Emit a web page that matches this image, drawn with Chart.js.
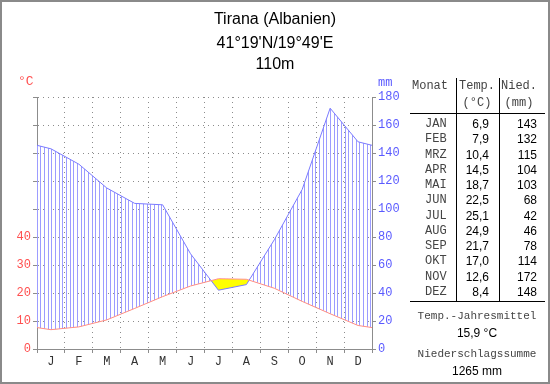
<!DOCTYPE html>
<html><head><meta charset="utf-8">
<script src="https://cdn.jsdelivr.net/npm/chart.js@4/dist/chart.umd.min.js"></script>
<style>
html,body{margin:0;padding:0;background:#fff;}
#wrap{position:relative;width:550px;height:384px;overflow:hidden;background:#fff;}
#frame{position:absolute;left:0;top:0;width:550px;height:384px;box-sizing:border-box;border:2px solid #8a8a8a;pointer-events:none;}
canvas{position:absolute;left:0;top:0;}
.t{position:absolute;white-space:nowrap;line-height:1;}
.title{font:16px "Liberation Sans",Arial,sans-serif;color:#000;width:550px;left:0;text-align:center;}
.mono{font:12px "Liberation Mono","Courier New",monospace;color:#444;}
.sm{font-size:11px;}
.sans{font:12px "Liberation Sans",Arial,sans-serif;color:#000;}
.ln{position:absolute;background:#000;}
</style></head>
<body><div id="wrap"><canvas id="c" width="405" height="384"></canvas><div id="frame"></div></div>
<script>
const stationTitle = ['Tirana (Albanien)', "41°19'N/19°49'E", '110m'];
const monthLetters = ['J','F','M','A','M','J','J','A','S','O','N','D'];
const monthNames = ['JAN','FEB','MRZ','APR','MAI','JUN','JUL','AUG','SEP','OKT','NOV','DEZ'];
const temperature = [6.9, 7.9, 10.4, 14.5, 18.7, 22.5, 25.1, 24.9, 21.7, 17.0, 12.6, 8.4];
const precipitation = [143, 132, 115, 104, 103, 68, 42, 46, 78, 114, 172, 148];
const tempTickLabels = [0, 10, 20, 30, 40];
const mmTickLabels = [0, 20, 40, 60, 80, 100, 120, 140, 160, 180];

const wrap = document.getElementById('wrap');
function addText(txt, cls, css){
  const d = document.createElement('div');
  d.className = 't ' + cls; d.textContent = txt;
  Object.assign(d.style, css); wrap.appendChild(d); return d;
}
function addLine(css){
  const d = document.createElement('div'); d.className='ln';
  Object.assign(d.style, css); wrap.appendChild(d);
}
// Title
const titleY = [10, 34, 55];
stationTitle.forEach((s,i)=>addText(s,'title',{top:titleY[i]+'px'}));
// axis unit labels
addText('°C','mono',{left:'18px',top:'74px',color:'#ff5050',fontSize:'13px'});
addText('mm','mono',{left:'378px',top:'76px',color:'#5a5aff'});

// Table
const fmt = v => v.toFixed(1).replace('.', ',');
addText('Monat','mono',{left:'412px',top:'79px'});
addText('Temp.','mono',{left:'477px',top:'79px',transform:'translateX(-50%)'});
addText('(°C)','mono',{left:'477px',top:'96px',transform:'translateX(-50%)'});
addText('Nied.','mono',{left:'519px',top:'79px',transform:'translateX(-50%)'});
addText('(mm)','mono',{left:'519px',top:'96px',transform:'translateX(-50%)'});
addLine({left:'456px',top:'78px',width:'1px',height:'223px'});
addLine({left:'499px',top:'78px',width:'1px',height:'223px'});
addLine({left:'410px',top:'113px',width:'135px',height:'1px'});
addLine({left:'410px',top:'301px',width:'135px',height:'1px'});
monthNames.forEach((m,i)=>{
  const y = 117 + i*15.25;
  addText(m,'mono',{left:'425px',top:y+'px'});
  addText(fmt(temperature[i]),'sans',{right:(550-489)+'px',top:y+'px'});
  addText(String(precipitation[i]),'sans',{right:(550-537)+'px',top:y+'px'});
});
const meanT = temperature.reduce((a,b)=>a+b,0)/temperature.length;
const sumP = precipitation.reduce((a,b)=>a+b,0);
addText('Temp.-Jahresmittel','mono sm',{left:'477px',top:'310px',transform:'translateX(-50%)'});
addText(fmt(meanT)+' °C','sans',{left:'477px',top:'326px',transform:'translateX(-50%)'});
addText('Niederschlagssumme','mono sm',{left:'477px',top:'348px',transform:'translateX(-50%)'});
addText(sumP+' mm','sans',{left:'477px',top:'364px',transform:'translateX(-50%)'});

// data points at month centres, with Dec/Jan repeated outside the axis range (clipped)
function pts(arr){
  const p = [{x:-0.5, y:arr[11]}];
  arr.forEach((v,i)=>p.push({x:i+0.5, y:v}));
  p.push({x:12.5, y:arr[0]});
  return p;
}
// hatch pattern
const pc = document.createElement('canvas'); pc.width = 11; pc.height = 4;
const pctx = pc.getContext('2d');
pctx.fillStyle = '#9c9cff';
[0,4,7].forEach(x=>pctx.fillRect(x,0,1,4));
const ctx = document.getElementById('c').getContext('2d');
const hatch = ctx.createPattern(pc,'repeat');

const gridGray = '#8c8c8c';
new Chart(ctx, {
  type:'line',
  data:{datasets:[
    {label:'Niederschlag', data:pts(precipitation), yAxisID:'y1', borderColor:'#7a7aff', borderWidth:1,
     pointRadius:0, tension:0, order:2, fill:{target:1, above:hatch, below:'#ffff00'}},
    {label:'Temperatur', data:pts(temperature), yAxisID:'y', borderColor:'#ff8c8c', borderWidth:1,
     pointRadius:0, tension:0, order:1, fill:false}
  ]},
  options:{
    responsive:false, animation:false, devicePixelRatio:1,
    layout:{padding:{top:97,left:0,right:0,bottom:0}},
    plugins:{legend:{display:false}, tooltip:{enabled:false}, title:{display:false}},
    scales:{
      x:{type:'linear', min:0, max:12,
        afterBuildTicks:(s)=>{ const t=[]; for(let i=0;i<=24;i++) t.push({value:i/2}); s.ticks=t; },
        afterFit:(s)=>{ s.height = 35; },
        ticks:{autoSkip:false, maxRotation:0, padding:2, color:'#333',
          font:{family:'"Liberation Mono", monospace', size:12},
          callback:(v)=>{ const k = v-0.5; return Number.isInteger(k) ? monthLetters[k] : ''; }},
        grid:{color:(c)=>Number.isInteger(c.tick.value)?gridGray:'rgba(0,0,0,0)',
              tickColor:(c)=>Number.isInteger(c.tick.value)?gridGray:'rgba(0,0,0,0)',
              tickLength:4, lineWidth:1},
        border:{display:true, color:gridGray, dash:[1,4]}
      },
      y:{type:'linear', position:'left', min:0, max:90,
        afterBuildTicks:(s)=>{ const t=[]; for(let v=0;v<=90;v+=10) t.push({value:v}); s.ticks=t; },
        afterFit:(s)=>{ s.width = 37; },
        ticks:{padding:2, color:'#ff5050', font:{family:'"Liberation Mono", monospace', size:12},
          callback:(v)=>tempTickLabels.includes(v)?String(v):''},
        grid:{color:gridGray, tickColor:gridGray, tickLength:4, lineWidth:1},
        border:{display:true, color:gridGray, dash:[1,4]}
      },
      y1:{type:'linear', position:'right', min:0, max:180,
        afterBuildTicks:(s)=>{ s.ticks = mmTickLabels.map(v=>({value:v})); },
        afterFit:(s)=>{ s.width = 33; },
        ticks:{padding:2, color:'#5a5aff', font:{family:'"Liberation Mono", monospace', size:12}},
        grid:{drawOnChartArea:false, tickColor:gridGray, tickLength:4},
        border:{display:true, color:gridGray}
      }
    }
  }
});
</script></body></html>
